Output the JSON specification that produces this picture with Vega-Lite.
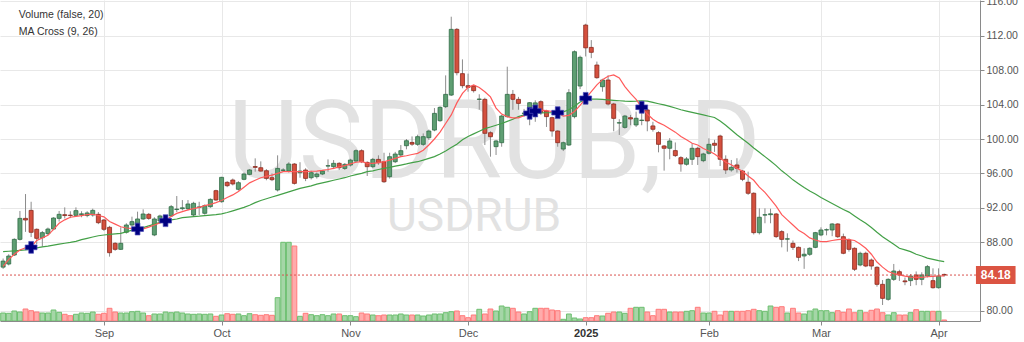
{
"$schema": "https://vega.github.io/schema/vega-lite/v6.json",
"width": 980,
"height": 321,
"autosize": {"type": "none"},
"padding": {"left": 0, "top": 0, "right": 44, "bottom": 21},
"background": "#ffffff",
"config": {"view": {"stroke": null}, "axis": {"labelFont": "Liberation Sans", "titleFont": "Liberation Sans"}},
"datasets": {
"bars": [
{"i":0,"d":"2024-08-07","o":85.1,"h":86.1,"l":84.9,"c":85.8,"v":80,"m9":85.2,"m26":86.9},
{"i":1,"d":"2024-08-08","o":85.46,"h":86.6,"l":85.3,"c":86.39,"v":77,"m9":86.0,"m26":86.95},
{"i":2,"d":"2024-08-09","o":86.51,"h":88.45,"l":86.4,"c":88.33,"v":100,"m9":86.6,"m26":87.0},
{"i":3,"d":"2024-08-12","o":88.33,"h":91.63,"l":88.2,"c":90.77,"v":90,"m9":87.1,"m26":87.05},
{"i":4,"d":"2024-08-13","o":90.77,"h":93.6,"l":89.2,"c":90.58,"v":120,"m9":87.35,"m26":87.1},
{"i":5,"d":"2024-08-14","o":91.7,"h":92.7,"l":88.6,"c":89.15,"v":103,"m9":87.45,"m26":87.2},
{"i":6,"d":"2024-08-15","o":89.5,"h":89.6,"l":87.75,"c":88.45,"v":90,"m9":88.2,"m26":87.35},
{"i":7,"d":"2024-08-16","o":88.53,"h":89.3,"l":87.48,"c":89.11,"v":80,"m9":88.5,"m26":87.45},
{"i":8,"d":"2024-08-19","o":88.99,"h":89.7,"l":88.8,"c":89.53,"v":80,"m9":88.8,"m26":87.55},
{"i":9,"d":"2024-08-20","o":89.53,"h":90.9,"l":89.4,"c":90.81,"v":110,"m9":89.5,"m26":87.67},
{"i":10,"d":"2024-08-21","o":90.77,"h":91.63,"l":90.4,"c":91.24,"v":87,"m9":90.2,"m26":87.78},
{"i":11,"d":"2024-08-22","o":91.2,"h":92.05,"l":90.77,"c":91.1,"v":67,"m9":90.6,"m26":87.88},
{"i":12,"d":"2024-08-23","o":91.15,"h":91.6,"l":90.8,"c":91.1,"v":53,"m9":90.9,"m26":87.98},
{"i":13,"d":"2024-08-26","o":91.12,"h":92.05,"l":90.97,"c":91.67,"v":67,"m9":91.0,"m26":88.1},
{"i":14,"d":"2024-08-27","o":91.2,"h":91.6,"l":90.9,"c":91.3,"v":80,"m9":91.1,"m26":88.3},
{"i":15,"d":"2024-08-28","o":91.1,"h":91.6,"l":90.9,"c":91.4,"v":77,"m9":91.2,"m26":88.45},
{"i":16,"d":"2024-08-29","o":91.16,"h":91.9,"l":90.97,"c":91.7,"v":90,"m9":91.25,"m26":88.6},
{"i":17,"d":"2024-08-30","o":91.24,"h":91.5,"l":90.1,"c":90.27,"v":67,"m9":91.1,"m26":88.75},
{"i":18,"d":"2024-09-02","o":90.58,"h":90.7,"l":89.3,"c":89.5,"v":77,"m9":90.95,"m26":88.84},
{"i":19,"d":"2024-09-03","o":89.73,"h":89.9,"l":86.32,"c":86.78,"v":127,"m9":90.4,"m26":88.9},
{"i":20,"d":"2024-09-04","o":87.87,"h":88.0,"l":87.0,"c":87.17,"v":90,"m9":90.1,"m26":88.97},
{"i":21,"d":"2024-09-05","o":87.17,"h":89.73,"l":87.1,"c":87.87,"v":80,"m9":89.8,"m26":89.03},
{"i":22,"d":"2024-09-06","o":89.15,"h":90.2,"l":89.0,"c":90.0,"v":80,"m9":89.65,"m26":89.2},
{"i":23,"d":"2024-09-09","o":90.0,"h":90.97,"l":89.8,"c":90.39,"v":93,"m9":89.6,"m26":89.4},
{"i":24,"d":"2024-09-10","o":90.19,"h":91.55,"l":90.0,"c":90.7,"v":97,"m9":89.53,"m26":89.55},
{"i":25,"d":"2024-09-11","o":90.7,"h":91.82,"l":90.6,"c":91.28,"v":80,"m9":89.55,"m26":89.7},
{"i":26,"d":"2024-09-12","o":91.24,"h":91.4,"l":90.6,"c":90.77,"v":53,"m9":89.75,"m26":89.9},
{"i":27,"d":"2024-09-13","o":88.84,"h":90.9,"l":88.7,"c":90.7,"v":70,"m9":90.0,"m26":90.1},
{"i":28,"d":"2024-09-16","o":90.46,"h":91.2,"l":90.4,"c":91.05,"v":70,"m9":90.25,"m26":90.3},
{"i":29,"d":"2024-09-17","o":90.12,"h":90.9,"l":89.9,"c":90.77,"v":90,"m9":90.5,"m26":90.45},
{"i":30,"d":"2024-09-18","o":91.05,"h":92.33,"l":91.0,"c":92.13,"v":83,"m9":91.0,"m26":90.6},
{"i":31,"d":"2024-09-19","o":91.8,"h":93.37,"l":91.5,"c":91.85,"v":90,"m9":91.35,"m26":90.7},
{"i":32,"d":"2024-09-20","o":91.9,"h":92.9,"l":91.7,"c":92.0,"v":80,"m9":91.55,"m26":90.85},
{"i":33,"d":"2024-09-23","o":91.9,"h":92.9,"l":91.7,"c":92.44,"v":70,"m9":91.75,"m26":90.92},
{"i":34,"d":"2024-09-24","o":91.16,"h":92.7,"l":91.0,"c":92.52,"v":67,"m9":91.9,"m26":90.98},
{"i":35,"d":"2024-09-25","o":92.05,"h":92.7,"l":91.16,"c":92.1,"v":70,"m9":92.05,"m26":91.03},
{"i":36,"d":"2024-09-26","o":91.36,"h":92.4,"l":91.2,"c":92.25,"v":67,"m9":92.25,"m26":91.1},
{"i":37,"d":"2024-09-27","o":92.13,"h":93.1,"l":92.0,"c":92.98,"v":70,"m9":92.4,"m26":91.15},
{"i":38,"d":"2024-09-30","o":93.99,"h":94.1,"l":92.8,"c":92.91,"v":47,"m9":92.6,"m26":91.2},
{"i":39,"d":"2024-10-01","o":92.71,"h":95.6,"l":92.6,"c":95.54,"v":60,"m9":92.85,"m26":91.3},
{"i":40,"d":"2024-10-02","o":94.96,"h":95.1,"l":94.4,"c":94.57,"v":73,"m9":93.2,"m26":91.45},
{"i":41,"d":"2024-10-03","o":95.23,"h":95.4,"l":94.6,"c":94.77,"v":67,"m9":93.5,"m26":91.65},
{"i":42,"d":"2024-10-04","o":94.15,"h":95.1,"l":94.0,"c":94.92,"v":70,"m9":93.9,"m26":91.85},
{"i":43,"d":"2024-10-07","o":95.31,"h":96.1,"l":95.2,"c":95.93,"v":53,"m9":94.4,"m26":92.05},
{"i":44,"d":"2024-10-08","o":95.89,"h":96.5,"l":95.8,"c":96.4,"v":73,"m9":94.9,"m26":92.3},
{"i":45,"d":"2024-10-09","o":96.8,"h":97.75,"l":96.2,"c":96.7,"v":63,"m9":95.2,"m26":92.6},
{"i":46,"d":"2024-10-10","o":96.66,"h":97.4,"l":96.2,"c":96.27,"v":57,"m9":95.5,"m26":92.85},
{"i":47,"d":"2024-10-11","o":96.31,"h":96.5,"l":95.2,"c":95.42,"v":63,"m9":95.65,"m26":93.05},
{"i":48,"d":"2024-10-14","o":95.5,"h":96.0,"l":95.1,"c":95.27,"v":57,"m9":95.8,"m26":93.25},
{"i":49,"d":"2024-10-15","o":94.07,"h":98.1,"l":93.9,"c":96.58,"v":233,"m9":96.0,"m26":93.45},
{"i":50,"d":"2024-10-16","o":96.35,"h":96.6,"l":96.2,"c":96.4,"v":787,"m9":96.2,"m26":93.65},
{"i":51,"d":"2024-10-17","o":96.27,"h":97.3,"l":96.1,"c":97.09,"v":787,"m9":96.2,"m26":93.85},
{"i":52,"d":"2024-10-18","o":97.09,"h":97.2,"l":94.7,"c":94.84,"v":750,"m9":96.2,"m26":94.05},
{"i":53,"d":"2024-10-21","o":96.08,"h":97.3,"l":95.5,"c":96.27,"v":47,"m9":96.2,"m26":94.25},
{"i":54,"d":"2024-10-22","o":96.39,"h":96.6,"l":95.1,"c":95.42,"v":77,"m9":96.2,"m26":94.4},
{"i":55,"d":"2024-10-23","o":95.5,"h":96.3,"l":95.3,"c":96.08,"v":63,"m9":96.25,"m26":94.55},
{"i":56,"d":"2024-10-24","o":95.62,"h":96.1,"l":95.4,"c":95.93,"v":53,"m9":96.27,"m26":94.75},
{"i":57,"d":"2024-10-25","o":95.93,"h":96.4,"l":95.8,"c":96.27,"v":63,"m9":96.35,"m26":94.9},
{"i":58,"d":"2024-10-28","o":96.85,"h":97.63,"l":96.2,"c":96.9,"v":53,"m9":96.45,"m26":95.05},
{"i":59,"d":"2024-10-29","o":96.78,"h":97.55,"l":96.5,"c":97.17,"v":70,"m9":96.58,"m26":95.2},
{"i":60,"d":"2024-10-30","o":97.17,"h":97.3,"l":96.4,"c":96.66,"v":70,"m9":96.75,"m26":95.35},
{"i":61,"d":"2024-10-31","o":96.58,"h":97.2,"l":96.4,"c":97.05,"v":53,"m9":96.9,"m26":95.5},
{"i":62,"d":"2024-11-01","o":96.97,"h":97.7,"l":96.8,"c":97.55,"v":53,"m9":97.1,"m26":95.7},
{"i":63,"d":"2024-11-04","o":97.44,"h":98.8,"l":97.3,"c":98.64,"v":43,"m9":97.3,"m26":95.85},
{"i":64,"d":"2024-11-05","o":98.64,"h":98.8,"l":97.2,"c":97.36,"v":80,"m9":97.36,"m26":96.0},
{"i":65,"d":"2024-11-06","o":97.28,"h":97.4,"l":95.7,"c":96.78,"v":70,"m9":97.2,"m26":96.2},
{"i":66,"d":"2024-11-07","o":96.78,"h":97.8,"l":96.6,"c":97.63,"v":60,"m9":97.16,"m26":96.3},
{"i":67,"d":"2024-11-08","o":97.63,"h":98.1,"l":97.0,"c":97.24,"v":53,"m9":97.25,"m26":96.45},
{"i":68,"d":"2024-11-11","o":97.36,"h":98.4,"l":94.9,"c":95.03,"v":60,"m9":97.36,"m26":96.58},
{"i":69,"d":"2024-11-12","o":95.62,"h":98.4,"l":95.4,"c":97.94,"v":60,"m9":97.55,"m26":96.7},
{"i":70,"d":"2024-11-13","o":97.36,"h":98.5,"l":97.2,"c":98.25,"v":60,"m9":97.75,"m26":96.85},
{"i":71,"d":"2024-11-14","o":98.14,"h":99.3,"l":97.9,"c":98.64,"v":70,"m9":97.95,"m26":96.97},
{"i":72,"d":"2024-11-15","o":99.22,"h":100.0,"l":98.8,"c":99.8,"v":60,"m9":98.05,"m26":97.1},
{"i":73,"d":"2024-11-18","o":99.6,"h":100.3,"l":99.2,"c":99.4,"v":60,"m9":98.2,"m26":97.25},
{"i":74,"d":"2024-11-19","o":99.38,"h":100.5,"l":99.2,"c":100.27,"v":60,"m9":98.33,"m26":97.36},
{"i":75,"d":"2024-11-20","o":99.38,"h":100.65,"l":99.2,"c":100.27,"v":50,"m9":98.7,"m26":97.55},
{"i":76,"d":"2024-11-21","o":100.15,"h":101.1,"l":99.9,"c":100.93,"v":60,"m9":99.3,"m26":97.75},
{"i":77,"d":"2024-11-22","o":101.04,"h":103.6,"l":100.9,"c":102.98,"v":70,"m9":100.0,"m26":97.95},
{"i":78,"d":"2024-11-25","o":102.13,"h":103.8,"l":102.0,"c":103.68,"v":70,"m9":100.8,"m26":98.25},
{"i":79,"d":"2024-11-26","o":103.76,"h":107.4,"l":103.6,"c":105.19,"v":83,"m9":101.8,"m26":98.6},
{"i":80,"d":"2024-11-27","o":105.11,"h":114.22,"l":105.0,"c":112.75,"v":93,"m9":102.8,"m26":99.0},
{"i":81,"d":"2024-11-28","o":112.75,"h":112.9,"l":107.4,"c":107.71,"v":100,"m9":104.2,"m26":99.4},
{"i":82,"d":"2024-11-29","o":107.6,"h":109.26,"l":105.9,"c":106.2,"v":53,"m9":105.3,"m26":99.9},
{"i":83,"d":"2024-12-02","o":106.2,"h":107.6,"l":105.5,"c":106.0,"v":33,"m9":106.0,"m26":100.3},
{"i":84,"d":"2024-12-03","o":106.16,"h":106.3,"l":105.4,"c":105.62,"v":60,"m9":106.28,"m26":100.6},
{"i":85,"d":"2024-12-04","o":104.6,"h":105.2,"l":103.4,"c":104.65,"v":117,"m9":106.0,"m26":100.9},
{"i":86,"d":"2024-12-05","o":104.61,"h":104.8,"l":99.3,"c":100.66,"v":70,"m9":105.5,"m26":101.2},
{"i":87,"d":"2024-12-06","o":100.73,"h":100.9,"l":97.94,"c":100.27,"v":120,"m9":104.9,"m26":101.4},
{"i":88,"d":"2024-12-09","o":99.11,"h":99.9,"l":98.14,"c":99.77,"v":100,"m9":103.6,"m26":101.6},
{"i":89,"d":"2024-12-10","o":99.57,"h":102.8,"l":99.1,"c":102.67,"v":150,"m9":102.9,"m26":101.8},
{"i":90,"d":"2024-12-11","o":102.6,"h":108.41,"l":102.5,"c":105.19,"v":137,"m9":102.6,"m26":102.05},
{"i":91,"d":"2024-12-12","o":105.19,"h":105.7,"l":103.4,"c":104.61,"v":127,"m9":102.45,"m26":102.3},
{"i":92,"d":"2024-12-13","o":104.61,"h":104.9,"l":103.4,"c":104.14,"v":90,"m9":102.45,"m26":102.6},
{"i":93,"d":"2024-12-16","o":102.98,"h":103.5,"l":102.6,"c":103.0,"v":70,"m9":102.7,"m26":102.8},
{"i":94,"d":"2024-12-17","o":102.79,"h":104.3,"l":101.6,"c":104.22,"v":93,"m9":102.99,"m26":102.95},
{"i":95,"d":"2024-12-18","o":103.4,"h":104.5,"l":102.0,"c":104.2,"v":127,"m9":103.26,"m26":103.0},
{"i":96,"d":"2024-12-19","o":104.34,"h":104.5,"l":102.8,"c":103.06,"v":127,"m9":103.35,"m26":103.03},
{"i":97,"d":"2024-12-20","o":103.25,"h":103.4,"l":101.4,"c":102.6,"v":127,"m9":103.3,"m26":103.05},
{"i":98,"d":"2024-12-23","o":102.48,"h":102.6,"l":100.27,"c":100.93,"v":110,"m9":103.2,"m26":103.05},
{"i":99,"d":"2024-12-24","o":100.93,"h":101.0,"l":99.1,"c":99.57,"v":103,"m9":103.06,"m26":103.08},
{"i":100,"d":"2024-12-26","o":98.83,"h":99.7,"l":98.6,"c":99.57,"v":17,"m9":102.65,"m26":103.15},
{"i":101,"d":"2024-12-27","o":99.3,"h":105.8,"l":99.2,"c":105.38,"v":70,"m9":102.75,"m26":103.4},
{"i":102,"d":"2024-12-30","o":102.6,"h":110.3,"l":102.4,"c":110.15,"v":30,"m9":103.2,"m26":103.8},
{"i":103,"d":"2024-12-31","o":106.16,"h":109.7,"l":105.8,"c":109.5,"v":20,"m9":103.9,"m26":104.3},
{"i":104,"d":"2025-01-02","o":113.25,"h":113.4,"l":109.6,"c":110.6,"v":33,"m9":104.73,"m26":104.6},
{"i":105,"d":"2025-01-03","o":110.65,"h":111.5,"l":109.4,"c":110.08,"v":33,"m9":105.5,"m26":104.65},
{"i":106,"d":"2025-01-06","o":108.6,"h":109.0,"l":107.0,"c":107.13,"v":53,"m9":106.3,"m26":104.63},
{"i":107,"d":"2025-01-07","o":106.08,"h":107.0,"l":105.5,"c":106.86,"v":50,"m9":106.9,"m26":104.6},
{"i":108,"d":"2025-01-08","o":106.86,"h":107.4,"l":103.9,"c":104.07,"v":77,"m9":107.3,"m26":104.55},
{"i":109,"d":"2025-01-09","o":104.07,"h":104.2,"l":100.9,"c":102.4,"v":90,"m9":107.45,"m26":104.5},
{"i":110,"d":"2025-01-10","o":101.85,"h":102.3,"l":100.47,"c":101.9,"v":90,"m9":107.1,"m26":104.45},
{"i":111,"d":"2025-01-13","o":101.35,"h":102.8,"l":101.2,"c":102.67,"v":77,"m9":106.1,"m26":104.4},
{"i":112,"d":"2025-01-14","o":102.48,"h":102.8,"l":101.6,"c":102.33,"v":127,"m9":105.3,"m26":104.38},
{"i":113,"d":"2025-01-15","o":101.63,"h":103.18,"l":101.4,"c":102.41,"v":137,"m9":104.6,"m26":104.4},
{"i":114,"d":"2025-01-16","o":102.15,"h":103.6,"l":101.6,"c":102.2,"v":137,"m9":103.69,"m26":104.45},
{"i":115,"d":"2025-01-17","o":103.38,"h":103.6,"l":100.9,"c":102.1,"v":90,"m9":102.9,"m26":104.4},
{"i":116,"d":"2025-01-20","o":101.52,"h":102.0,"l":100.86,"c":101.13,"v":53,"m9":102.3,"m26":104.25},
{"i":117,"d":"2025-01-21","o":100.74,"h":100.9,"l":98.45,"c":99.38,"v":117,"m9":101.9,"m26":104.1},
{"i":118,"d":"2025-01-22","o":99.19,"h":99.3,"l":96.32,"c":98.92,"v":117,"m9":101.6,"m26":103.96},
{"i":119,"d":"2025-01-23","o":98.92,"h":100.1,"l":97.64,"c":99.77,"v":90,"m9":101.2,"m26":103.8},
{"i":120,"d":"2025-01-24","o":98.65,"h":99.6,"l":97.9,"c":98.07,"v":90,"m9":100.8,"m26":103.6},
{"i":121,"d":"2025-01-27","o":97.83,"h":98.0,"l":96.2,"c":97.1,"v":90,"m9":100.3,"m26":103.4},
{"i":122,"d":"2025-01-28","o":97.06,"h":97.9,"l":96.9,"c":97.68,"v":97,"m9":99.9,"m26":103.25},
{"i":123,"d":"2025-01-29","o":97.64,"h":99.5,"l":96.98,"c":98.92,"v":103,"m9":99.5,"m26":103.1},
{"i":124,"d":"2025-01-30","o":98.92,"h":99.1,"l":96.98,"c":97.95,"v":137,"m9":99.3,"m26":102.95},
{"i":125,"d":"2025-01-31","o":97.48,"h":98.4,"l":97.3,"c":98.26,"v":80,"m9":98.9,"m26":102.8},
{"i":126,"d":"2025-02-03","o":98.34,"h":100.08,"l":98.2,"c":99.38,"v":80,"m9":98.6,"m26":102.65},
{"i":127,"d":"2025-02-04","o":99.5,"h":99.9,"l":98.5,"c":99.27,"v":97,"m9":98.26,"m26":102.5},
{"i":128,"d":"2025-02-05","o":100.35,"h":100.5,"l":96.86,"c":97.64,"v":60,"m9":97.8,"m26":102.1},
{"i":129,"d":"2025-02-06","o":97.64,"h":98.1,"l":95.93,"c":96.4,"v":97,"m9":97.3,"m26":101.6},
{"i":130,"d":"2025-02-07","o":96.4,"h":97.56,"l":96.2,"c":96.71,"v":97,"m9":97.0,"m26":101.05},
{"i":131,"d":"2025-02-10","o":96.98,"h":97.76,"l":96.1,"c":96.6,"v":97,"m9":96.6,"m26":100.5},
{"i":132,"d":"2025-02-11","o":96.28,"h":96.4,"l":95.1,"c":95.31,"v":97,"m9":96.25,"m26":100.0},
{"i":133,"d":"2025-02-12","o":94.97,"h":96.2,"l":93.5,"c":93.69,"v":103,"m9":95.7,"m26":99.5},
{"i":134,"d":"2025-02-13","o":93.69,"h":93.8,"l":88.9,"c":89.11,"v":117,"m9":95.2,"m26":98.95},
{"i":135,"d":"2025-02-14","o":89.11,"h":91.94,"l":88.9,"c":90.9,"v":103,"m9":94.4,"m26":98.45},
{"i":136,"d":"2025-02-17","o":91.15,"h":91.94,"l":90.2,"c":91.2,"v":97,"m9":93.8,"m26":97.95},
{"i":137,"d":"2025-02-18","o":91.2,"h":91.9,"l":90.2,"c":91.3,"v":150,"m9":93.0,"m26":97.45},
{"i":138,"d":"2025-02-19","o":91.28,"h":91.4,"l":88.5,"c":88.65,"v":137,"m9":92.2,"m26":96.9},
{"i":139,"d":"2025-02-20","o":89.23,"h":89.4,"l":87.4,"c":88.33,"v":143,"m9":91.2,"m26":96.3},
{"i":140,"d":"2025-02-21","o":88.35,"h":89.03,"l":86.9,"c":88.4,"v":80,"m9":90.6,"m26":95.8},
{"i":141,"d":"2025-02-24","o":87.87,"h":88.2,"l":87.1,"c":87.4,"v":127,"m9":90.0,"m26":95.25},
{"i":142,"d":"2025-02-25","o":87.4,"h":87.5,"l":85.8,"c":86.24,"v":80,"m9":89.4,"m26":94.8},
{"i":143,"d":"2025-02-26","o":86.4,"h":87.3,"l":84.9,"c":86.6,"v":70,"m9":89.0,"m26":94.35},
{"i":144,"d":"2025-02-27","o":86.59,"h":87.4,"l":86.4,"c":87.29,"v":100,"m9":88.5,"m26":93.95},
{"i":145,"d":"2025-02-28","o":87.4,"h":89.2,"l":87.3,"c":89.11,"v":120,"m9":88.25,"m26":93.6},
{"i":146,"d":"2025-03-03","o":88.84,"h":89.73,"l":88.7,"c":89.42,"v":103,"m9":88.07,"m26":93.2},
{"i":147,"d":"2025-03-04","o":89.42,"h":89.6,"l":88.8,"c":89.45,"v":103,"m9":88.06,"m26":92.85},
{"i":148,"d":"2025-03-05","o":89.42,"h":90.2,"l":88.7,"c":90.12,"v":83,"m9":88.2,"m26":92.5},
{"i":149,"d":"2025-03-06","o":90.12,"h":90.2,"l":88.5,"c":88.64,"v":103,"m9":88.3,"m26":92.15},
{"i":150,"d":"2025-03-07","o":88.64,"h":89.0,"l":86.6,"c":86.71,"v":87,"m9":88.35,"m26":91.8},
{"i":151,"d":"2025-03-10","o":88.26,"h":88.45,"l":86.9,"c":87.17,"v":120,"m9":88.3,"m26":91.5},
{"i":152,"d":"2025-03-11","o":87.29,"h":87.4,"l":84.65,"c":84.85,"v":83,"m9":88.2,"m26":91.05},
{"i":153,"d":"2025-03-12","o":85.35,"h":86.9,"l":85.2,"c":86.71,"v":107,"m9":87.8,"m26":90.6},
{"i":154,"d":"2025-03-13","o":86.71,"h":86.9,"l":85.1,"c":85.23,"v":83,"m9":87.3,"m26":90.2},
{"i":155,"d":"2025-03-14","o":85.93,"h":86.1,"l":84.8,"c":85.23,"v":107,"m9":86.6,"m26":89.7},
{"i":156,"d":"2025-03-17","o":85.08,"h":85.2,"l":82.83,"c":83.1,"v":120,"m9":85.7,"m26":89.15},
{"i":157,"d":"2025-03-18","o":83.1,"h":83.6,"l":80.7,"c":81.47,"v":83,"m9":85.1,"m26":88.64},
{"i":158,"d":"2025-03-19","o":81.36,"h":83.8,"l":81.2,"c":83.68,"v":60,"m9":84.6,"m26":88.2},
{"i":159,"d":"2025-03-20","o":83.68,"h":85.47,"l":83.5,"c":84.65,"v":83,"m9":84.35,"m26":87.75},
{"i":160,"d":"2025-03-21","o":84.57,"h":84.8,"l":83.5,"c":84.19,"v":60,"m9":84.2,"m26":87.3},
{"i":161,"d":"2025-03-24","o":83.5,"h":83.9,"l":83.0,"c":83.4,"v":60,"m9":84.05,"m26":87.1},
{"i":162,"d":"2025-03-25","o":83.53,"h":84.3,"l":82.9,"c":84.07,"v":83,"m9":83.95,"m26":86.9},
{"i":163,"d":"2025-03-26","o":84.19,"h":84.6,"l":83.0,"c":83.68,"v":113,"m9":83.92,"m26":86.6},
{"i":164,"d":"2025-03-27","o":83.68,"h":84.5,"l":83.0,"c":84.19,"v":97,"m9":83.92,"m26":86.4},
{"i":165,"d":"2025-03-28","o":84.07,"h":85.35,"l":83.9,"c":85.16,"v":97,"m9":83.98,"m26":86.15},
{"i":166,"d":"2025-03-31","o":83.53,"h":84.96,"l":82.6,"c":82.71,"v":97,"m9":84.02,"m26":86.0},
{"i":167,"d":"2025-04-01","o":82.71,"h":84.96,"l":82.6,"c":84.07,"v":97,"m9":84.07,"m26":85.85},
{"i":168,"d":"2025-04-02","o":84.25,"h":84.35,"l":84.0,"c":84.18,"v":10,"m9":84.08,"m26":85.75}
],
"crosses": [
{"i":5,"p":87.4},{"i":24,"p":89.53},{"i":29,"p":90.5},{"i":94,"p":102.99},{"i":95,"p":103.26},{"i":99,"p":103.06},{"i":104,"p":104.73},{"i":114,"p":103.69}
]
},
"resolve": {"scale": {"y": "independent"}, "axis": {"x": "independent", "y": "independent"}},
"layer": [
  {
    "data": {"name": "bars"},
    "mark": {"type": "bar", "orient": "vertical", "width": 4.8, "strokeWidth": 1, "clip": true},
    "encoding": {
      "x": {"field": "i", "type": "quantitative", "title": null,
        "scale": {"domain": [0.336, 173.5], "nice": false, "zero": false},
        "axis": {
          "values": [18, 39, 62, 83, 104, 126, 146, 167],
          "labelExpr": "datum.value == 18 ? 'Sep' : datum.value == 39 ? 'Oct' : datum.value == 62 ? 'Nov' : datum.value == 83 ? 'Dec' : datum.value == 104 ? '2025' : datum.value == 126 ? 'Feb' : datum.value == 146 ? 'Mar' : 'Apr'",
          "labelFontWeight": {"condition": {"test": "datum.value == 104", "value": "bold"}, "value": "normal"},
          "labelColor": {"condition": {"test": "datum.value == 104", "value": "#333333"}, "value": "#555555"},
          "labelFontSize": 11, "labelPadding": 2, "tickSize": 4, "tickColor": "#8a8a8a",
          "domainColor": "#8a8a8a", "grid": true, "gridColor": "#e8e8e8",
          "labelFlush": false, "labelOverlap": false, "title": null
        }
      },
      "y": {"field": "v", "type": "quantitative", "scale": {"domain": [0, 3210], "nice": false}, "axis": null},
      "fill": {"condition": {"test": "datum.c >= datum.o", "value": "#a5d6a7"}, "value": "#ffabab"},
      "stroke": {"condition": {"test": "datum.c >= datum.o", "value": "#6cbf6f"}, "value": "#ff7a7a"}
    }
  },
  {
    "resolve": {"axis": {"x": "independent", "y": "independent"}},
    "layer": [
      {
        "data": {"values": [{"label": "USDRUB, D"}]},
        "mark": {"type": "text", "font": "Roboto", "fontSize": 109, "align": "center", "baseline": "alphabetic", "color": "#e2e2e2"},
        "encoding": {
          "x": {"datum": 87.7, "type": "quantitative", "scale": {"domain": [0.336, 173.5], "nice": false, "zero": false}, "axis": null},
          "y": {"datum": 95.47, "type": "quantitative", "scale": {"domain": [78.837, 116.163], "nice": false, "zero": false}, "axis": null},
          "text": {"field": "label"}
        }
      },
      {
        "data": {"values": [{"label": "USDRUB"}]},
        "mark": {"type": "text", "font": "Roboto", "fontSize": 46, "align": "center", "baseline": "alphabetic", "color": "#e2e2e2"},
        "encoding": {
          "x": {"datum": 84.08, "type": "quantitative", "scale": {"domain": [0.336, 173.5], "nice": false, "zero": false}, "axis": null},
          "y": {"datum": 89.3, "type": "quantitative", "scale": {"domain": [78.837, 116.163], "nice": false, "zero": false}, "axis": null},
          "text": {"field": "label"}
        }
      },
      {
        "data": {"values": [{"label": "Volume (false, 20)"}]},
        "mark": {"type": "text", "font": "Liberation Sans", "fontSize": 10.5, "align": "left", "baseline": "middle", "color": "#333333"},
        "encoding": {
          "x": {"datum": 2.81, "type": "quantitative", "scale": {"domain": [0.336, 173.5], "nice": false, "zero": false}, "axis": null},
          "y": {"datum": 114.45, "type": "quantitative", "scale": {"domain": [78.837, 116.163], "nice": false, "zero": false}, "axis": null},
          "text": {"field": "label"}
        }
      },
      {
        "data": {"values": [{"label": "MA Cross (9, 26)"}]},
        "mark": {"type": "text", "font": "Liberation Sans", "fontSize": 10.5, "align": "left", "baseline": "middle", "color": "#333333"},
        "encoding": {
          "x": {"datum": 2.81, "type": "quantitative", "scale": {"domain": [0.336, 173.5], "nice": false, "zero": false}, "axis": null},
          "y": {"datum": 112.45, "type": "quantitative", "scale": {"domain": [78.837, 116.163], "nice": false, "zero": false}, "axis": null},
          "text": {"field": "label"}
        }
      },
      {
        "data": {"name": "bars"},
        "mark": {"type": "rule", "color": "#8c8c8c", "strokeWidth": 1, "clip": true},
        "encoding": {
          "x": {"field": "i", "type": "quantitative", "scale": {"domain": [0.336, 173.5], "nice": false, "zero": false}, "axis": null},
          "y": {"field": "l", "type": "quantitative", "title": null,
            "scale": {"domain": [78.837, 116.163], "nice": false, "zero": false},
            "axis": {"orient": "right", "values": [80, 88, 92, 96, 100, 104, 108, 112, 116], "format": ".2f", "title": null,
              "grid": true, "gridColor": "#e8e8e8", "domainColor": "#8a8a8a", "tickColor": "#8a8a8a", "tickSize": 4,
              "labelFontSize": 10.5, "labelColor": "#555555", "labelPadding": 2, "labelOverlap": false, "labelBound": false}},
          "y2": {"field": "h"}
        }
      },
      {
        "data": {"name": "bars"},
        "mark": {"type": "bar", "orient": "vertical", "width": 4, "strokeWidth": 0.8, "clip": true},
        "encoding": {
          "x": {"field": "i", "type": "quantitative", "scale": {"domain": [0.336, 173.5], "nice": false, "zero": false}, "axis": null},
          "y": {"field": "o", "type": "quantitative", "scale": {"domain": [78.837, 116.163], "nice": false, "zero": false}, "axis": null},
          "y2": {"field": "c"},
          "fill": {"condition": {"test": "datum.c >= datum.o", "value": "#5e9e72"}, "value": "#d4503e"},
          "stroke": {"condition": {"test": "datum.c >= datum.o", "value": "#2f6b45"}, "value": "#8a2a1e"}
        }
      },
      {
        "data": {"name": "bars"},
        "mark": {"type": "line", "color": "#43a047", "strokeWidth": 1.2, "clip": true},
        "encoding": {
          "x": {"field": "i", "type": "quantitative", "scale": {"domain": [0.336, 173.5], "nice": false, "zero": false}, "axis": null},
          "y": {"field": "m26", "type": "quantitative", "scale": {"domain": [78.837, 116.163], "nice": false, "zero": false}, "axis": null}
        }
      },
      {
        "data": {"name": "bars"},
        "mark": {"type": "line", "color": "#ff5a5a", "strokeWidth": 1.2, "clip": true},
        "encoding": {
          "x": {"field": "i", "type": "quantitative", "scale": {"domain": [0.336, 173.5], "nice": false, "zero": false}, "axis": null},
          "y": {"field": "m9", "type": "quantitative", "scale": {"domain": [78.837, 116.163], "nice": false, "zero": false}, "axis": null}
        }
      },
      {
        "data": {"name": "crosses"},
        "mark": {"type": "point", "shape": "cross", "filled": true, "size": 140, "color": "#000080", "stroke": "#4a4ab8", "strokeWidth": 0.7, "opacity": 1},
        "encoding": {
          "x": {"field": "i", "type": "quantitative", "scale": {"domain": [0.336, 173.5], "nice": false, "zero": false}, "axis": null},
          "y": {"field": "p", "type": "quantitative", "scale": {"domain": [78.837, 116.163], "nice": false, "zero": false}, "axis": null}
        }
      },
      {
        "data": {"values": [{"last": 84.18}]},
        "mark": {"type": "rule", "color": "#d9534f", "strokeWidth": 1, "strokeDash": [2, 2]},
        "encoding": {
          "y": {"field": "last", "type": "quantitative", "scale": {"domain": [78.837, 116.163], "nice": false, "zero": false}, "axis": null}
        }
      },
      {
        "data": {"values": [{"last": 84.18}]},
        "mark": {"type": "rect", "color": "#db5442"},
        "encoding": {
          "x": {"datum": 173.67, "type": "quantitative", "scale": {"domain": [0.336, 173.5], "nice": false, "zero": false}, "axis": null},
          "x2": {"datum": 180.74},
          "y": {"datum": 85.23, "type": "quantitative", "scale": {"domain": [78.837, 116.163], "nice": false, "zero": false}, "axis": null},
          "y2": {"datum": 83.14}
        }
      },
      {
        "data": {"values": [{"last": 84.18}]},
        "mark": {"type": "text", "font": "Liberation Sans", "fontSize": 12, "fontWeight": "bold", "color": "#ffffff", "align": "center", "baseline": "middle"},
        "encoding": {
          "x": {"datum": 177.2, "type": "quantitative", "scale": {"domain": [0.336, 173.5], "nice": false, "zero": false}, "axis": null},
          "y": {"field": "last", "type": "quantitative", "scale": {"domain": [78.837, 116.163], "nice": false, "zero": false}, "axis": null},
          "text": {"field": "last", "type": "quantitative", "format": ".2f"}
        }
      }
    ]
  }
]
}
